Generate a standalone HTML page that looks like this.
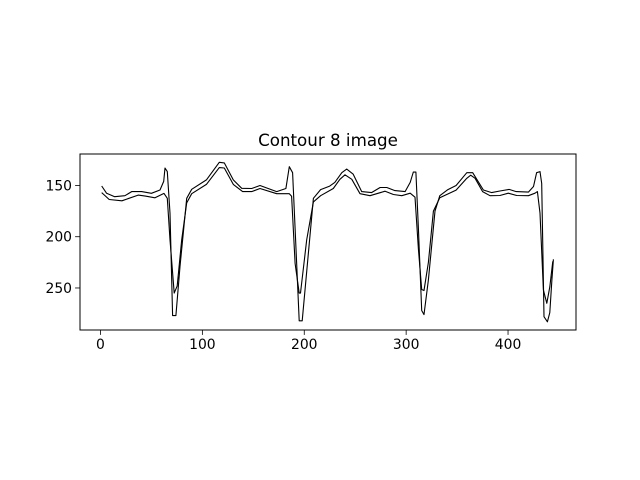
<!DOCTYPE html>
<html><head><meta charset="utf-8"><style>
html,body{margin:0;padding:0;background:#fff;}
svg{display:block;font-family:"DejaVu Sans","Liberation Sans",sans-serif;}
</style></head><body>
<svg id="chart" width="640" height="480" viewBox="0 0 640 480">
<rect width="640" height="480" fill="#fff"/>
<text x="328" y="146" text-anchor="middle" font-size="16.7">Contour 8 image</text>
<g id="plot"></g>
</svg>
<script>
const xTicks=[0,100,200,300,400];
const yTicks=[150,200,250];
const outerX=[1.2,6,14,24,30.6,40.4,50,58.4,62,63.3,65.6,68.2,70.8,74,78,84.6,89.5,104,116.6,121.5,130.4,138.6,148.4,156.6,173,182,185.3,188.6,191,195,198,209,216,225,230,236.8,241.7,248,256.4,266,274.4,281,289,299,304,307,309.6,312,315.3,317.5,321.8,328.3,333,341,349,359.5,365.3,375.8,384,392,401,408,420,425,428,431.4,433,435.3,438.6,441,443,444.5];
const outerY=[150.5,157.6,161,160,156,156,157.6,154.4,146,133,136.5,177,277,277,229,162.5,153.7,144.6,127.4,128,144.6,152.8,153,150,156,153,131.7,137.5,192,282,282,162.5,154,150.6,147,137.5,134,139,156,157,152,152,155,156,147,137,137,192,272,276,242,175,160,154,150,137.5,137.5,154.4,157,155.4,153.8,156,156.5,151,137.5,136.5,148,278,283,274,242,222];
const innerX=[1.2,8.6,21,37,44,53.5,62.3,65.6,68.2,72.4,75.3,79.7,84.6,89.5,104,116.6,121.5,130.4,139.5,148.4,156.6,173,185.3,187.6,191,195,196.3,202.4,209,216,228.5,235,240,246.7,254.7,264.5,279.3,287.5,295.7,304,308.7,312,315.3,317.5,321.8,326.7,333,349,359.5,363.4,367.7,375,382.3,392,400.3,408.5,420,426.5,428.8,431.4,434.7,438,441,443.9];
const innerY=[157,163.7,165,159.4,160.4,162,157.7,162.5,203,255,248,203,167,158,149,132.6,133,149,156,156,153,158,158,160.5,226,255,255,203,166,160,153,144,139.6,144,158,160,155.6,158.8,160,157.5,161.4,212,251.5,252.5,225,175,162,154.5,143,140,143,156,160,159.8,157.5,159.8,160,157.5,156,177,252,265,249,224];

const L=80,R=576,T=154,B=330;
const xMin=-20.1,xMax=466.7,yMin=119.3,yMax=291;
const sx=v=>L+(v-xMin)/(xMax-xMin)*(R-L);
const sy=v=>T+(v-yMin)/(yMax-yMin)*(B-T);
const NS="http://www.w3.org/2000/svg";
const g=document.getElementById('plot');
function mk(t,a){const e=document.createElementNS(NS,t);for(const k in a)e.setAttribute(k,a[k]);g.appendChild(e);return e;}
function line(xs,ys,name){
  const p=mk('polyline',{points:xs.map((x,i)=>sx(x).toFixed(1)+','+sy(ys[i]).toFixed(1)).join(' '),fill:'none',stroke:'#000','stroke-width':1.1,'stroke-linejoin':'round'});
  
  
}
line(outerX,outerY,'contour-outer-line');
line(innerX,innerY,'contour-inner-line');
const fr=mk('rect',{x:L,y:T,width:R-L,height:B-T,fill:'none',stroke:'#000','stroke-width':1});


xTicks.forEach(v=>{
  const x=sx(v);
  const t=mk('line',{x1:x,x2:x,y1:B,y2:B+4.9,stroke:'#000','stroke-width':0.8});
  
  
  const l=mk('text',{x:x,y:B+19,'text-anchor':'middle','font-size':13.9});
  l.textContent=v;
  
  
});
yTicks.forEach(v=>{
  const y=sy(v);
  const t=mk('line',{x1:L-4.9,x2:L,y1:y,y2:y,stroke:'#000','stroke-width':0.8});
  
  
  const l=mk('text',{x:L-8,y:y+5,'text-anchor':'end','font-size':13.9});
  l.textContent=v;
  
  
});
</script>
</body></html>
